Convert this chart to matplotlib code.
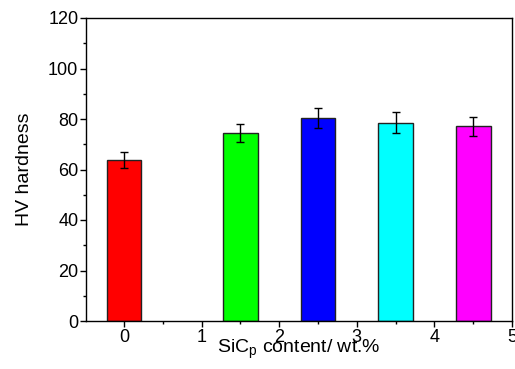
import numpy as np
import matplotlib
matplotlib.use('Agg')
import matplotlib.pyplot as plt
from matplotlib.ticker import MultipleLocator

plt.rcParams['font.family'] = ['Liberation Sans', 'DejaVu Sans']
plt.rcParams['mathtext.fontset'] = 'custom'
plt.rcParams['mathtext.rm'] = 'Liberation Sans'

# data
positions = [0, 1.5, 2.5, 3.5, 4.5]
hardness = [63.8, 74.4, 80.4, 78.6, 77.1]
errors = [3.3, 3.7, 4.0, 4.0, 3.8]
colors = ['#ff0000', '#00ff00', '#0000ff', '#00ffff', '#ff00ff']
xticks = [0, 1, 2, 3, 4, 5]
yticks = [0, 20, 40, 60, 80, 100, 120]

fig = plt.figure(figsize=(5.15, 3.69), dpi=100)
ax = fig.add_axes([86/515, 1-321/369, (512-86)/515, (321-18)/369])

ax.bar(positions, hardness, width=0.45, color=colors, edgecolor='#222222', linewidth=1.0,
       yerr=errors, error_kw=dict(ecolor='black', elinewidth=1.0, capsize=3, capthick=1.0))

ax.set_xlim(-0.49, 5.0)
ax.set_ylim(0, 120)
ax.set_xticks(xticks)
ax.set_yticks(yticks)
ax.xaxis.set_minor_locator(MultipleLocator(0.5))
ax.yaxis.set_minor_locator(MultipleLocator(10))
ax.tick_params(which='major', direction='out', length=4, width=1, labelsize=13, pad=1.5)
ax.tick_params(which='minor', direction='out', length=2.5, width=1)
for s in ax.spines.values():
    s.set_linewidth(1.0)

ax.set_xlabel(r'SiC$_\mathregular{p}$ content/ wt.%', fontsize=14, labelpad=-6)
ax.set_ylabel('HV hardness', fontsize=14, labelpad=11)

fig.savefig('out.png', dpi=100)
